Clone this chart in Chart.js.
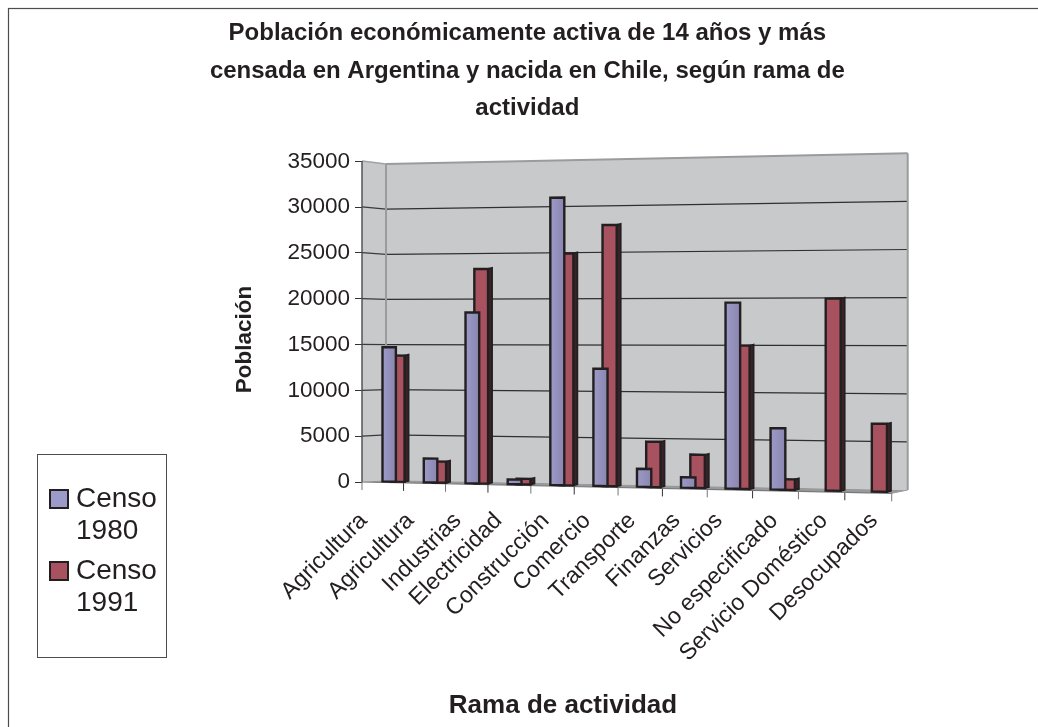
<!DOCTYPE html>
<html>
<head>
<meta charset="utf-8">
<style>
  html, body { margin: 0; padding: 0; background: #fff; }
  #wrap { width: 1038px; height: 727px; position: relative; }
</style>
<script src="https://cdn.jsdelivr.net/npm/chart.js@4/dist/chart.umd.min.js"></script>
</head>
<body>
<div id="wrap"><canvas id="chart" width="1038" height="727"></canvas></div>
<script>
const categories = ["Agricultura", "Agricultura", "Industrias", "Electricidad", "Construcción", "Comercio",
  "Transporte", "Finanzas", "Servicios", "No especificado", "Servicio Doméstico", "Desocupados"];
const censo1980 = [14700, 2600, 18500, 500, 30800, 12500, 1900, 1100, 19500, 6400, 0, 0];
const censo1991 = [13800, 2300, 23200, 600, 24800, 27800, 4800, 3500, 15000, 1100, 19900, 7000];
const titleLines = ["Población económicamente activa de 14 años y más",
  "censada en Argentina y nacida en Chile, según rama de", "actividad"];
const legendLines = [["Censo", "1980"], ["Censo", "1991"]];
const xAxisTitle = "Rama de actividad";
const yAxisTitle = "Población";

const FONT = '"Liberation Sans", Arial, sans-serif';
const INK = "#231f20";

// esquinas de la caja 3D: [arriba-izq, abajo-izq, abajo-der, arriba-der]
const FRONT = [[362, 161], [362, 482], [891.7, 493.3], [891.7, 150.3]];
const BACK = [[386, 164], [386, 480], [907.7, 490], [907.7, 153.3]];
const BARS = [[370.6, 162.2], [370.6, 481.2], [895.1, 492], [895.1, 151.5]];
const LABEL_NUDGE = [-15, -10, -5, -7, -3, -5, -4, -4, -7, 3, 6.5, 10];

// homografia cuadrado unidad -> cuadrilatero
function makeHomography(q) {
  const [p0, p1, p2, p3] = [q[1], q[2], q[3], q[0]]; // (0,0) (1,0) (1,1) (0,1)
  const dx1 = p1[0] - p2[0], dx2 = p3[0] - p2[0], sx = p0[0] - p1[0] + p2[0] - p3[0];
  const dy1 = p1[1] - p2[1], dy2 = p3[1] - p2[1], sy = p0[1] - p1[1] + p2[1] - p3[1];
  const den = dx1 * dy2 - dx2 * dy1;
  const g = (sx * dy2 - dx2 * sy) / den;
  const h = (dx1 * sy - sx * dy1) / den;
  const a = p1[0] - p0[0] + g * p1[0], b = p3[0] - p0[0] + h * p3[0];
  const d = p1[1] - p0[1] + g * p1[1], e = p3[1] - p0[1] + h * p3[1];
  return (u, v) => {
    const w = g * u + h * v + 1;
    return [(a * u + b * v + p0[0]) / w, (d * u + e * v + p0[1]) / w];
  };
}
const frontPlane = makeHomography(FRONT), backPlane = makeHomography(BACK), barPlane = makeHomography(BARS);

function poly(ctx, pts, fill, stroke, lw) {
  ctx.beginPath();
  pts.forEach((p, i) => (i ? ctx.lineTo(p[0], p[1]) : ctx.moveTo(p[0], p[1])));
  ctx.closePath();
  if (fill) { ctx.fillStyle = fill; ctx.fill(); }
  if (stroke) { ctx.strokeStyle = stroke; ctx.lineWidth = lw; ctx.stroke(); }
}
function line(ctx, a, b, color, lw) {
  ctx.beginPath();
  ctx.moveTo(a[0], a[1]);
  ctx.lineTo(b[0], b[1]);
  ctx.strokeStyle = color;
  ctx.lineWidth = lw;
  ctx.stroke();
}

const box3d = {
  id: "box3d",
  beforeDatasetsDraw(chart) {
    const ctx = chart.ctx;
    const { x: xs, y: ys } = chart.scales;
    const area = chart.chartArea;
    const U = (px) => (px - area.left) / area.width;
    const V = (py) => (area.bottom - py) / area.height;
    ctx.save();

    // marco exterior
    ctx.strokeStyle = "#4d4d4f";
    ctx.lineWidth = 1.2;
    ctx.strokeRect(8.5, 8.5, 1040, 730);

    // paredes y piso
    poly(ctx, [FRONT[0], BACK[0], BACK[1], FRONT[1]], "#c8c9cb");
    poly(ctx, [BACK[0], BACK[3], BACK[2], BACK[1]], "#c8c9cb");
    poly(ctx, [FRONT[1], BACK[1], BACK[2], FRONT[2]], "#98999b");

    // lineas de division
    ys.ticks.forEach((t) => {
      const v = V(ys.getPixelForValue(t.value));
      if (t.value > 0 && t.value < 35000) {
        line(ctx, frontPlane(0, v), backPlane(0, v), "#3a3a3c", 1.2);
        line(ctx, backPlane(0, v), backPlane(1, v), "#2f2f31", 1.2);
      }
    });
    line(ctx, FRONT[0], BACK[0], "#a0a1a3", 1.5);
    line(ctx, BACK[0], BACK[3], "#9a9b9d", 2);
    line(ctx, BACK[3], BACK[2], "#9a9b9d", 2);
    line(ctx, BACK[0], BACK[1], "#9a9b9d", 2);
    line(ctx, BACK[2], FRONT[2], "#9a9b9d", 1);
    line(ctx, FRONT[0], FRONT[1], "#4a4a4c", 1.4);

    // marcas del eje de categorias
    const step = area.width / categories.length;
    for (let i = 0; i <= categories.length; i++) {
      const p = frontPlane(U(xs.getPixelForValue(0) - step / 2 + i * step), 0);
      line(ctx, p, [p[0], p[1] + 8], i % 2 ? "#333" : "#777", 1);
    }
    line(ctx, FRONT[1], FRONT[2], "#77787a", 1.2);

    // barras
    const side = 4;
    [1, 0].forEach((di) => {
      const ds = chart.data.datasets[di];
      chart.getDatasetMeta(di).data.forEach((bar, i) => {
        if (!ds.data[i]) return;
        const left = bar.x - bar.width / 2;
        const right = left + bar.width * 1.55;
        const bl = barPlane(U(left), 0), br = barPlane(U(right), 0);
        const tl = barPlane(U(left), V(bar.y)), tr = barPlane(U(right), V(bar.y));
        if (di === 1) {
          poly(ctx, [tr, [tr[0] + side, tr[1] - 1], [br[0] + side, br[1] - 1], br], "#3a2428", INK, 1.8);
        }
        let fill = ds.backgroundColor;
        if (di === 0) {
          fill = ctx.createLinearGradient(tl[0], 0, tr[0], 0);
          fill.addColorStop(0, "#9c9ac8");
          fill.addColorStop(1, "#8a86b0");
        }
        poly(ctx, [tl, tr, br, bl], fill, INK, 2.4);
      });
    });

    // rotulos de categorias a 45 grados
    ctx.fillStyle = INK;
    ctx.font = "23.2px " + FONT;
    ctx.textAlign = "right";
    ctx.textBaseline = "middle";
    categories.forEach((label, i) => {
      const p = frontPlane(U(xs.getPixelForValue(i)), 0);
      ctx.save();
      ctx.translate(p[0] + LABEL_NUDGE[i] - 4, 517);
      ctx.rotate(-Math.PI / 4);
      ctx.fillText(label, 0, 0);
      ctx.restore();
    });

    // titulos de los ejes
    ctx.textAlign = "center";
    ctx.textBaseline = "alphabetic";
    ctx.font = "bold 26px " + FONT;
    ctx.fillText(xAxisTitle, 563, 713);
    ctx.save();
    ctx.translate(251, 339.5);
    ctx.rotate(-Math.PI / 2);
    ctx.font = "bold 22.5px " + FONT;
    ctx.fillText(yAxisTitle, 0, 0);
    ctx.restore();

    // leyenda
    ctx.strokeStyle = "#4d4d4f";
    ctx.lineWidth = 1;
    ctx.strokeRect(37.5, 454.5, 129, 203);
    ctx.font = "28px " + FONT;
    ctx.textAlign = "left";
    legendLines.forEach((lines, i) => {
      const y = 507 + i * 72;
      poly(ctx, [[50, y - 17], [68, y - 17], [68, y + 1], [50, y + 1]], chart.data.datasets[i].backgroundColor, INK, 2);
      ctx.fillStyle = INK;
      lines.forEach((txt, k) => ctx.fillText(txt, 76, y + k * 32));
    });

    ctx.restore();
    return false; // las barras ya estan dibujadas
  },
};

new Chart(document.getElementById("chart"), {
  type: "bar",
  data: {
    labels: categories,
    datasets: [
      { label: "Censo 1980", data: censo1980, backgroundColor: "#9c9ac8" },
      { label: "Censo 1991", data: censo1991, backgroundColor: "#a85260" },
    ],
  },
  options: {
    responsive: false,
    animation: false,
    layout: { padding: { left: 163, right: 146.3, top: 0, bottom: 245 } },
    datasets: { bar: { categoryPercentage: 0.42, barPercentage: 1 } },
    plugins: {
      legend: { display: false },
      tooltip: { enabled: false },
      title: {
        display: true,
        text: titleLines,
        color: INK,
        font: { family: FONT, size: 24, weight: "bold", lineHeight: 1.56 },
        padding: { top: 15, bottom: 34 },
      },
    },
    scales: {
      x: {
        ticks: { display: false },
        grid: { display: false },
        border: { display: false },
        afterFit(scale) { scale.height = 0; },
      },
      y: {
        min: 0,
        max: 35000,
        afterFit(scale) { scale.width = 199; },
        ticks: { stepSize: 5000, color: INK, font: { family: FONT, size: 22.5 }, padding: 5, callback: (v) => String(v) },
        grid: { drawOnChartArea: false, tickLength: 7, color: "#333" },
        border: { display: false },
      },
    },
  },
  plugins: [box3d],
});
</script>
</body>
</html>
